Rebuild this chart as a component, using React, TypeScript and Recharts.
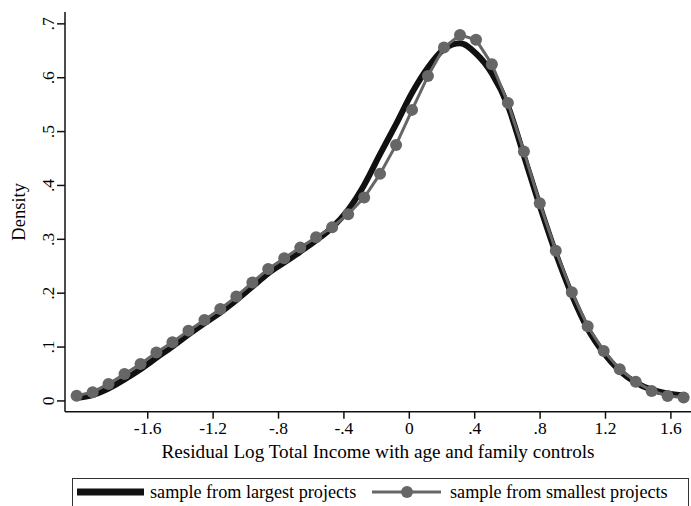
import React from 'react';
import { LineChart, Line, XAxis, YAxis, Legend } from 'recharts';

const xValues = [
  -2.035, -1.937, -1.84, -1.742, -1.644, -1.547, -1.449, -1.351, -1.253, -1.156,
  -1.058, -0.96, -0.863, -0.765, -0.667, -0.57, -0.472, -0.374, -0.276, -0.179,
  -0.081, 0.017, 0.114, 0.212, 0.31, 0.408, 0.505, 0.603, 0.701, 0.798,
  0.896, 0.994, 1.091, 1.189, 1.287, 1.385, 1.482, 1.58, 1.678,
];

const largestProjects = [
  0.006, 0.011, 0.023, 0.04, 0.059, 0.08, 0.101, 0.123, 0.144, 0.164,
  0.187, 0.212, 0.237, 0.257, 0.277, 0.298, 0.322, 0.355, 0.401, 0.458,
  0.514, 0.572, 0.619, 0.653, 0.664, 0.645, 0.608, 0.548, 0.455, 0.362,
  0.274, 0.197, 0.134, 0.089, 0.056, 0.034, 0.021, 0.014, 0.01,
];

const smallestProjects = [
  0.0098, 0.0162, 0.0316, 0.0501, 0.0687, 0.0897, 0.109, 0.1305, 0.1504, 0.1708,
  0.1937, 0.22, 0.245, 0.265, 0.2846, 0.304, 0.3225, 0.3466, 0.3775, 0.4215,
  0.4753, 0.5403, 0.6034, 0.656, 0.6795, 0.6703, 0.6251, 0.5533, 0.4629, 0.367,
  0.279, 0.2018, 0.1387, 0.0928, 0.0589, 0.0358, 0.0186, 0.0093, 0.0065,
];

const xTicks = [-1.6, -1.2, -0.8, -0.4, 0, 0.4, 0.8, 1.2, 1.6];
const xTickLabels = ['-1.6', '-1.2', '-.8', '-.4', '0', '.4', '.8', '1.2', '1.6'];
const yTicks = [0, 0.1, 0.2, 0.3, 0.4, 0.5, 0.6, 0.7];
const yTickLabels = ['0', '.1', '.2', '.3', '.4', '.5', '.6', '.7'];

const seriesNames = ['sample from largest projects', 'sample from smallest projects'];
const xTitle = 'Residual Log Total Income with age and family controls';
const yTitle = 'Density';

const data = xValues.map((x, i) => ({
  x,
  largest: largestProjects[i],
  smallest: smallestProjects[i],
}));

const FONT = '"Liberation Serif", "Times New Roman", serif';
const GRAY = '#666666';

const YTick = (props: any) => {
  const { x, y, payload, index } = props;
  const label = yTickLabels[index] ?? String(payload.value);
  return (
    <text
      x={x - 1}
      y={y}
      transform={`rotate(-90 ${x - 1} ${y})`}
      textAnchor="middle"
      fontFamily={FONT}
      fontSize={17.5}
      fill="#000"
    >
      {label}
    </text>
  );
};

const YLabel = (props: any) => {
  const vb = props.viewBox || { x: 0, y: 12, width: 65, height: 400 };
  const cx = 25;
  const cy = vb.y + vb.height / 2;
  return (
    <text
      x={cx}
      y={cy}
      transform={`rotate(-90 ${cx} ${cy})`}
      textAnchor="middle"
      fontFamily={FONT}
      fontSize={18.5}
      fill="#000"
    >
      {yTitle}
    </text>
  );
};

const LegendContent = () => (
  <div
    style={{
      position: 'relative',
      width: 617,
      height: 40,
      border: '1px solid #333',
      boxSizing: 'border-box',
      fontFamily: FONT,
      fontSize: 18.2,
      color: '#000',
      background: '#fff',
    }}
  >
    <svg width={617} height={30} style={{ position: 'absolute', left: 0, top: 0 }}>
      <line x1={4} y1={13} x2={71} y2={13} stroke="#111" strokeWidth={7} />
      <line x1={299} y1={13} x2={368} y2={13} stroke={GRAY} strokeWidth={3} />
      <circle cx={334} cy={13} r={6} fill={GRAY} />
    </svg>
    <span style={{ position: 'absolute', left: 77, top: 2, whiteSpace: 'nowrap', lineHeight: '22px' }}>
      {seriesNames[0]}
    </span>
    <span style={{ position: 'absolute', left: 377, top: 2, whiteSpace: 'nowrap', lineHeight: '22px' }}>
      {seriesNames[1]}
    </span>
  </div>
);

export default function App() {
  return (
    <div
      style={{
        position: 'absolute',
        left: 0,
        top: 0,
        width: 691,
        height: 506,
        overflow: 'hidden',
        background: '#fff',
      }}
    >
      <LineChart
        width={691}
        height={506}
        data={data}
        margin={{ top: 12, right: 0, bottom: 48, left: 0 }}
      >
        <XAxis
          xAxisId="top"
          orientation="top"
          dataKey="x"
          type="number"
          domain={[-2.106, 1.723]}
          allowDataOverflow
          tick={false}
          tickLine={false}
          height={0}
          axisLine={{ stroke: '#8a8a8a', strokeWidth: 1.5 }}
        />
        <XAxis
          dataKey="x"
          type="number"
          domain={[-2.106, 1.723]}
          allowDataOverflow
          ticks={xTicks}
          tickFormatter={(v: number, i: number) => xTickLabels[i] ?? String(v)}
          tickSize={7}
          tickMargin={3}
          height={46.3}
          axisLine={{ stroke: '#111', strokeWidth: 1.5 }}
          tickLine={{ stroke: '#111', strokeWidth: 1.5 }}
          tick={{ fill: '#000', fontSize: 17.5, fontFamily: FONT }}
          label={{
            value: xTitle,
            position: 'insideBottom',
            offset: 0,
            fill: '#000',
            fontSize: 19.2,
            fontFamily: FONT,
          }}
        />
        <YAxis
          type="number"
          domain={[-0.02, 0.722]}
          allowDataOverflow
          ticks={yTicks}
          width={65}
          tickSize={8}
          tickMargin={2}
          tick={<YTick />}
          axisLine={{ stroke: '#111', strokeWidth: 1.5 }}
          tickLine={{ stroke: '#111', strokeWidth: 1.5 }}
          label={<YLabel />}
        />
        <Legend
          layout="horizontal"
          verticalAlign="middle"
          align="center"
          content={<LegendContent />}
          wrapperStyle={{ position: 'absolute', left: 72, top: 478, width: 617, height: 40 }}
        />
        <Line
          type="monotone"
          dataKey="largest"
          name={seriesNames[0]}
          stroke="#111"
          strokeWidth={6}
          dot={false}
          activeDot={false}
          isAnimationActive={false}
        />
        <Line
          type="linear"
          dataKey="smallest"
          name={seriesNames[1]}
          stroke={GRAY}
          strokeWidth={3}
          dot={{ r: 6, fill: GRAY, stroke: 'none' }}
          activeDot={false}
          isAnimationActive={false}
        />
      </LineChart>
    </div>
  );
}
